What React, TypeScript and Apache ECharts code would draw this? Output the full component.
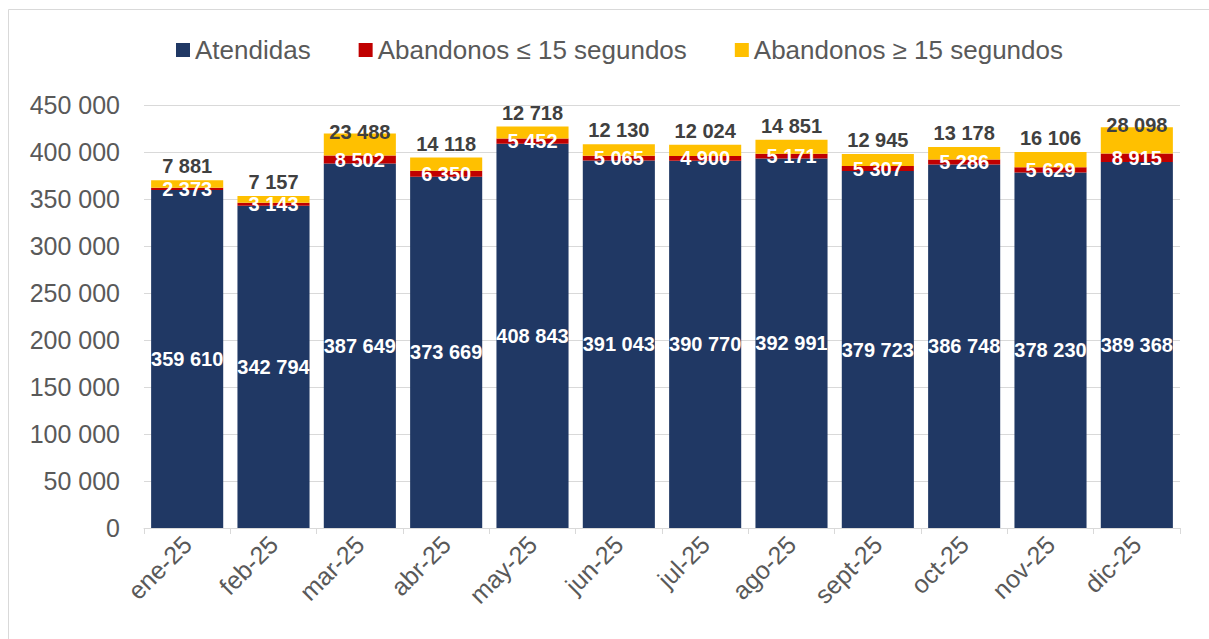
import React, { useEffect, useRef } from "react";
import * as echarts from "echarts";

const categories = ["ene-25", "feb-25", "mar-25", "abr-25", "may-25", "jun-25", "jul-25", "ago-25", "sept-25", "oct-25", "nov-25", "dic-25"];
const atendidas = [359610, 342794, 387649, 373669, 408843, 391043, 390770, 392991, 379723, 386748, 378230, 389368];
const abandonosMenor = [2373, 3143, 8502, 6350, 5452, 5065, 4900, 5171, 5307, 5286, 5629, 8915];
const abandonosMayor = [7881, 7157, 23488, 14118, 12718, 12130, 12024, 14851, 12945, 13178, 16106, 28098];
const seriesNames = ["Atendidas", "Abandonos ≤ 15 segundos", "Abandonos ≥ 15 segundos"];

const fmt = (v: number) => String(Math.round(v)).replace(/\B(?=(\d{3})+(?!\d))/g, " ");

export default function App() {
  const ref = useRef<HTMLDivElement>(null);
  useEffect(() => {
    if (!ref.current) return;
    const chart = echarts.init(ref.current, null, { renderer: "svg" });
    const font = "'Liberation Sans', Arial, sans-serif";
    const inLabel = {
      show: true,
      position: "inside",
      color: "#ffffff",
      fontWeight: "bold",
      fontSize: 20,
      fontFamily: font,
      formatter: (p: any) => fmt(p.value),
    };
    chart.setOption({
      animation: false,
      backgroundColor: "#ffffff",
      textStyle: { fontFamily: font },
      graphic: [
        {
          type: "polyline",
          shape: { points: [[8.5, 700], [8.5, 9.5], [1300, 9.5]] },
          style: { fill: "none", stroke: "#D9D9D9", lineWidth: 1 },
          silent: true,
        },
      ],
      legend: {
        data: seriesNames,
        left: 171,
        top: 32,
        itemWidth: 14,
        itemHeight: 14,
        itemGap: 48,
        icon: "rect",
        textStyle: { color: "#595959", fontSize: 26, fontFamily: font, padding: [0, 0, 0, 0] },
      },
      grid: { left: 144, right: 29, top: 105, bottom: 111, containLabel: false },
      xAxis: {
        type: "category",
        data: categories,
        axisLine: { lineStyle: { color: "#D9D9D9" } },
        axisTick: { show: true, length: 6, lineStyle: { color: "#D9D9D9" } },
        axisLabel: { rotate: 45, color: "#595959", fontSize: 25, fontFamily: font, margin: 12, interval: 0 },
      },
      yAxis: {
        type: "value",
        min: 0,
        max: 450000,
        interval: 50000,
        axisLine: { show: false },
        axisTick: { show: false },
        splitLine: { lineStyle: { color: "#D9D9D9" } },
        axisLabel: { color: "#595959", fontSize: 25, fontFamily: font, margin: 24, formatter: (v: number) => fmt(v) },
      },
      series: [
        {
          name: seriesNames[0],
          type: "bar",
          stack: "total",
          barCategoryGap: "16.5%",
          itemStyle: { color: "#203864" },
          label: inLabel,
          data: atendidas,
        },
        {
          name: seriesNames[1],
          type: "bar",
          stack: "total",
          itemStyle: { color: "#C00000" },
          label: inLabel,
          data: abandonosMenor,
        },
        {
          name: seriesNames[2],
          type: "bar",
          stack: "total",
          itemStyle: { color: "#FFC000" },
          label: {
            show: true,
            position: "top",
            distance: 4,
            color: "#404040",
            fontWeight: "bold",
            fontSize: 20,
            fontFamily: font,
            formatter: (p: any) => fmt(p.value),
          },
          data: abandonosMayor.map((v) =>
            v > 20000 ? { value: v, label: { distance: -8 } } : v
          ),
        },
      ],
    });
    return () => chart.dispose();
  }, []);
  return <div ref={ref} style={{ position: "absolute", left: 0, top: 0, width: 1209, height: 639 }} />;
}
